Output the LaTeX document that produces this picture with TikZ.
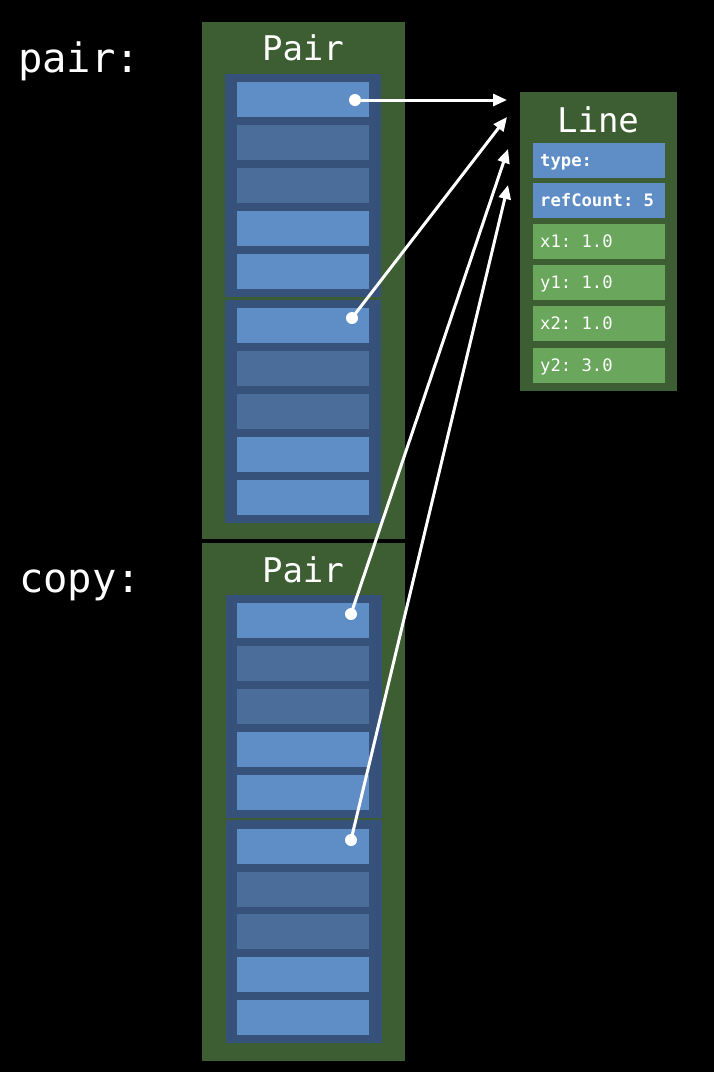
\documentclass[tikz,border=0pt]{standalone}
\usepackage{fontspec}
\setmonofont{DejaVu Sans Mono}
\usetikzlibrary{arrows.meta}
\definecolor{bggreen}{HTML}{3D5E33}
\definecolor{inner}{HTML}{36527A}
\definecolor{celllight}{HTML}{5F8DC6}
\definecolor{celldark}{HTML}{4A6D9A}
\definecolor{fieldgreen}{HTML}{6AA75C}
\tikzset{
  box/.style={fill=bggreen, draw=none, minimum width=203pt, inner sep=0pt},
  innerbox/.style={fill=inner, draw=none, minimum width=156pt, minimum height=223pt, inner sep=0pt},
  cell/.style={fill=celllight, draw=none, minimum width=132pt, minimum height=35pt, inner sep=0pt},
  dcell/.style={cell, fill=celldark},
  field/.style={cell, fill=celllight},
  gfield/.style={cell, fill=fieldgreen},
  lbl/.style={text=white, font=\ttfamily\fontsize{40.5}{40}\selectfont, anchor=base west, inner sep=0pt},
  title/.style={text=white, font=\ttfamily\fontsize{34}{34}\selectfont, anchor=base, inner sep=0pt},
  ftext/.style={text=white, font=\ttfamily\fontsize{17.2}{17}\selectfont, anchor=base west, inner sep=0pt},
  ptr/.style={draw=white, line width=3pt, -{Triangle[length=14pt,width=12pt]}},
  dot/.style={fill=white, draw=none},
}
\begin{document}
\begin{tikzpicture}[x=1pt,y=-1pt]
\fill[black] (0,0) rectangle (714,1072);
\useasboundingbox (0,0) rectangle (714,1072);

% labels
\node[lbl] (lpair) at (18,72) {pair:};
\node[lbl] (lcopy) at (19,592) {copy:};

% Pair 1
\node[box, minimum height=517pt] (pair1) at (303.5,280.5) {};
\node[title] (pair1t) at (303,60) {Pair};
\node[innerbox] (p1i1) at (303,185.5) {};
\node[innerbox] (p1i2) at (303,411.5) {};
\node[cell]  (p1a1) at (303, 99.5) {};
\node[dcell] (p1a2) at (303,142.5) {};
\node[dcell] (p1a3) at (303,185.5) {};
\node[cell]  (p1a4) at (303,228.5) {};
\node[cell]  (p1a5) at (303,271.5) {};
\node[cell]  (p1b1) at (303,325.5) {};
\node[dcell] (p1b2) at (303,368.5) {};
\node[dcell] (p1b3) at (303,411.5) {};
\node[cell]  (p1b4) at (303,454.5) {};
\node[cell]  (p1b5) at (303,497.5) {};

% Pair 2 (copy)
\node[box, minimum height=518pt] (pair2) at (303.5,802) {};
\node[title] (pair2t) at (303,582) {Pair};
\node[innerbox] (p2i1) at (304,706.5) {};
\node[innerbox] (p2i2) at (304,931.5) {};
\node[cell]  (p2a1) at (303,620.5) {};
\node[dcell] (p2a2) at (303,663.5) {};
\node[dcell] (p2a3) at (303,706.5) {};
\node[cell]  (p2a4) at (303,749.5) {};
\node[cell]  (p2a5) at (303,792.5) {};
\node[cell]  (p2b1) at (303,846.5) {};
\node[dcell] (p2b2) at (303,889.5) {};
\node[dcell] (p2b3) at (303,931.5) {};
\node[cell]  (p2b4) at (303,974.5) {};
\node[cell]  (p2b5) at (303,1017.5) {};

% Line
\node[box, minimum width=157pt, minimum height=299pt] (line) at (598.5,241.5) {};
\node[title] (linet) at (598,132) {Line};
\node[field]  (ftype) at (599,160.5) {};
\node[field]  (fref)  at (599,200.5) {};
\node[gfield] (fx1)   at (599,241.5) {};
\node[gfield] (fy1)   at (599,282.5) {};
\node[gfield] (fx2)   at (599,323.5) {};
\node[gfield] (fy2)   at (599,365.5) {};
\node[ftext] (ttype) at (540,166.5) {\bfseries type:};
\node[ftext] (tref)  at (540,206.5) {\bfseries refCount: 5};
\node[ftext] (tx1)   at (540,247.5) {x1: 1.0};
\node[ftext] (ty1)   at (540,288.5) {y1: 1.0};
\node[ftext] (tx2)   at (540,329.5) {x2: 1.0};
\node[ftext] (ty2)   at (540,371.5) {y2: 3.0};

% pointers
\coordinate (d1) at (355,100);
\coordinate (d2) at (352,318);
\coordinate (d3) at (351,614);
\coordinate (d4) at (351,840);
\coordinate (t1) at (507,100);
\coordinate (t2) at (507,117);
\coordinate (t3) at (508,149);
\coordinate (t4) at (508,185);
\draw[ptr] (d1) -- (t1);
\draw[ptr] (d2) -- (t2);
\draw[ptr] (d3) -- (t3);
\draw[ptr] (d4) -- (t4);
\foreach \d in {d1,d2,d3,d4} \fill[dot] (\d) circle (6pt);
\end{tikzpicture}
\end{document}
